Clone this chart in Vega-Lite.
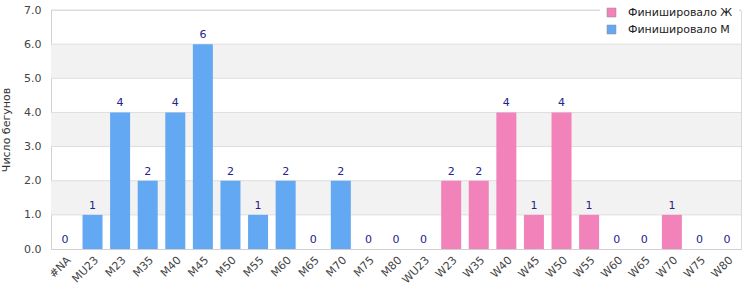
{
  "$schema": "https://vega.github.io/schema/vega-lite/v6.json",
  "autosize": {"type": "none"},
  "width": 690,
  "height": 239,
  "padding": {"left": 51, "top": 10, "right": 9, "bottom": 51},
  "background": "white",
  "config": {
    "font": "DejaVu Sans",
    "view": {"stroke": "#d9d9d9", "strokeWidth": 1},
    "axis": {"labelFont": "DejaVu Sans", "titleFont": "DejaVu Sans"},
    "legend": {"labelFont": "DejaVu Sans"}
  },
  "datasets": {
    "bands": [{"from": 1, "to": 2}, {"from": 3, "to": 4}, {"from": 5, "to": 6}],
    "grid": [{"v": 1}, {"v": 2}, {"v": 3}, {"v": 4}, {"v": 5}, {"v": 6}, {"v": 7}],
    "runners": [
      {"cat": "#NA", "n": 0, "group": "Финишировало М"},
      {"cat": "MU23", "n": 1, "group": "Финишировало М"},
      {"cat": "M23", "n": 4, "group": "Финишировало М"},
      {"cat": "M35", "n": 2, "group": "Финишировало М"},
      {"cat": "M40", "n": 4, "group": "Финишировало М"},
      {"cat": "M45", "n": 6, "group": "Финишировало М"},
      {"cat": "M50", "n": 2, "group": "Финишировало М"},
      {"cat": "M55", "n": 1, "group": "Финишировало М"},
      {"cat": "M60", "n": 2, "group": "Финишировало М"},
      {"cat": "M65", "n": 0, "group": "Финишировало М"},
      {"cat": "M70", "n": 2, "group": "Финишировало М"},
      {"cat": "M75", "n": 0, "group": "Финишировало М"},
      {"cat": "M80", "n": 0, "group": "Финишировало М"},
      {"cat": "WU23", "n": 0, "group": "Финишировало Ж"},
      {"cat": "W23", "n": 2, "group": "Финишировало Ж"},
      {"cat": "W35", "n": 2, "group": "Финишировало Ж"},
      {"cat": "W40", "n": 4, "group": "Финишировало Ж"},
      {"cat": "W45", "n": 1, "group": "Финишировало Ж"},
      {"cat": "W50", "n": 4, "group": "Финишировало Ж"},
      {"cat": "W55", "n": 1, "group": "Финишировало Ж"},
      {"cat": "W60", "n": 0, "group": "Финишировало Ж"},
      {"cat": "W65", "n": 0, "group": "Финишировало Ж"},
      {"cat": "W70", "n": 1, "group": "Финишировало Ж"},
      {"cat": "W75", "n": 0, "group": "Финишировало Ж"},
      {"cat": "W80", "n": 0, "group": "Финишировало Ж"}
    ]
  },
  "encoding": {
    "y": {
      "type": "quantitative",
      "scale": {"domain": [0, 7], "nice": false},
      "axis": {"title": "Число бегунов", "values": [0, 1, 2, 3, 4, 5, 6, 7], "labelOverlap": false, "format": ".1f", "ticks": false, "grid": false, "labelPadding": 10, "labelFontSize": 11, "labelColor": "#444", "domainColor": "#d0d0d0", "titleFontSize": 11, "titleFontWeight": "normal", "titleColor": "#333", "titlePadding": 12}
    }
  },
  "layer": [
    {
      "data": {"name": "bands"},
      "mark": {"type": "rect", "color": "#f2f2f2"},
      "encoding": {
        "y": {"field": "from", "type": "quantitative"},
        "y2": {"field": "to"}
      }
    },
    {
      "data": {"name": "grid"},
      "mark": {"type": "rule", "color": "#dddddd", "strokeWidth": 1},
      "encoding": {
        "y": {"field": "v", "type": "quantitative"}
      }
    },
    {
      "data": {"name": "runners"},
      "layer": [
        {
          "mark": {"type": "bar", "width": 20},
          "encoding": {
            "x": {
              "field": "cat", "type": "nominal", "sort": null,
              "scale": {"paddingInner": 0.27, "paddingOuter": 0.14},
              "axis": {"title": null, "labelAngle": -45, "ticks": false, "labelPadding": 5, "labelFontSize": 11, "labelColor": "#444", "domainColor": "#d0d0d0", "grid": false, "labelOverlap": false}
            },
            "y": {"field": "n", "type": "quantitative"},
            "color": {
              "field": "group", "type": "nominal",
              "scale": {"domain": ["Финишировало Ж", "Финишировало М"], "range": ["#f283ba", "#62a8f2"]},
              "legend": {"title": null, "orient": "none", "legendX": 549, "legendY": -9, "direction": "vertical", "symbolType": "square", "symbolSize": 80, "symbolStrokeColor": "#888", "symbolStrokeWidth": 0.5, "labelFontSize": 11, "labelColor": "#222", "fillColor": "white", "padding": 6, "rowPadding": 5, "labelOffset": 11, "offset": 0}
            }
          }
        },
        {
          "mark": {"type": "text", "baseline": "bottom", "dy": -4, "fontSize": 11, "color": "#23238c"},
          "encoding": {
            "x": {"field": "cat", "type": "nominal", "sort": null},
            "y": {"field": "n", "type": "quantitative"},
            "text": {"field": "n", "type": "quantitative"}
          }
        }
      ]
    }
  ]
}
